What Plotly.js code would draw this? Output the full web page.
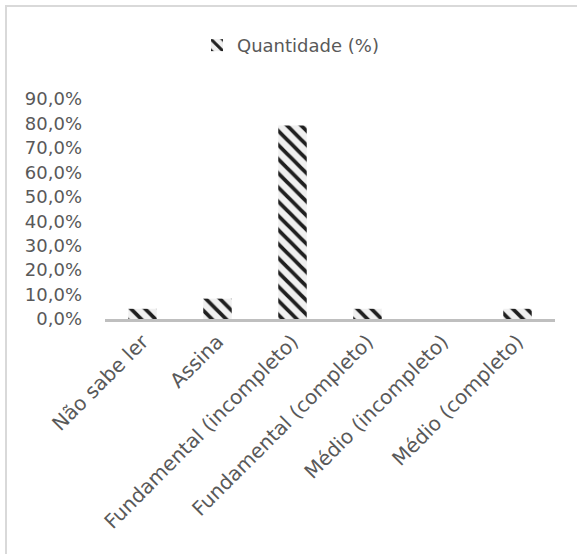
<!DOCTYPE html>
<html>
<head>
<meta charset="utf-8">
<script src="https://cdn.plot.ly/plotly-3.0.1.min.js"></script>
<style>
  html, body { margin: 0; padding: 0; background: #fff; }
  #wrap { position: relative; width: 577px; height: 554px; overflow: hidden; }
  #chart { position: absolute; left: 0; top: 0; width: 577px; height: 554px; }
  #frame { position: absolute; left: 5px; top: 5px; width: 700px; height: 700px;
           border-left: 2px solid #d9d9d9; border-top: 2px solid #d9d9d9; pointer-events: none; }
</style>
</head>
<body>
<div id="wrap">
  <div id="chart"></div>
  <div id="frame"></div>
</div>
<script>
// Escolaridade dos entrevistados (n = 24)
const categorias = [
  "Não sabe ler",
  "Assina",
  "Fundamental (incompleto)",
  "Fundamental (completo)",
  "Médio (incompleto)",
  "Médio (completo)"
];
const quantidade = [4.17, 8.33, 79.17, 4.17, 0, 4.17];
const yTicks = [0, 10, 20, 30, 40, 50, 60, 70, 80, 90];
const yTickText = ["0,0%", "10,0%", "20,0%", "30,0%", "40,0%", "50,0%", "60,0%", "70,0%", "80,0%", "90,0%"];

const fonte = "DejaVu Sans, sans-serif";
const cinza = "#595959";

const trace = {
  type: "bar",
  name: "Quantidade (%)",
  x: categorias,
  y: quantidade,
  width: 0.38,
  marker: {
    color: "#ffffff",
    line: { color: "#cccccc", width: 0 },
    pattern: { shape: "\\", fgcolor: "#1f1f1f", bgcolor: "#f0f0f0", size: 10, solidity: 0.38 }
  },
  hoverinfo: "skip"
};

const layout = {
  width: 577,
  height: 554,
  margin: { l: 105, r: 22, t: 99, b: 235 },
  paper_bgcolor: "rgba(0,0,0,0)",
  plot_bgcolor: "rgba(0,0,0,0)",
  font: { family: fonte, color: cinza, size: 18 },
  showlegend: true,
  legend: {
    orientation: "h",
    x: 197 / 577, xanchor: "left",
    xref: "container",
    y: 0.918, yanchor: "middle",
    yref: "container",
    font: { family: fonte, size: 18, color: cinza },
    itemwidth: 30
  },
  xaxis: {
    type: "category",
    tickangle: -45,
    tickfont: { family: fonte, size: 20, color: cinza },
    showline: true,
    linecolor: "#bfbfbf",
    linewidth: 3,
    ticks: "",
    showgrid: false,
    fixedrange: true
  },
  yaxis: {
    range: [0, 90],
    tickvals: yTicks,
    ticktext: yTickText,
    tickfont: { family: fonte, size: 18, color: cinza },
    showgrid: false,
    zeroline: false,
    showline: false,
    ticks: "",
    ticklabelstandoff: 22,
    fixedrange: true
  },
  bargap: 0.62
};

Plotly.newPlot("chart", [trace], layout, { displayModeBar: false, staticPlot: true });
</script>
</body>
</html>
